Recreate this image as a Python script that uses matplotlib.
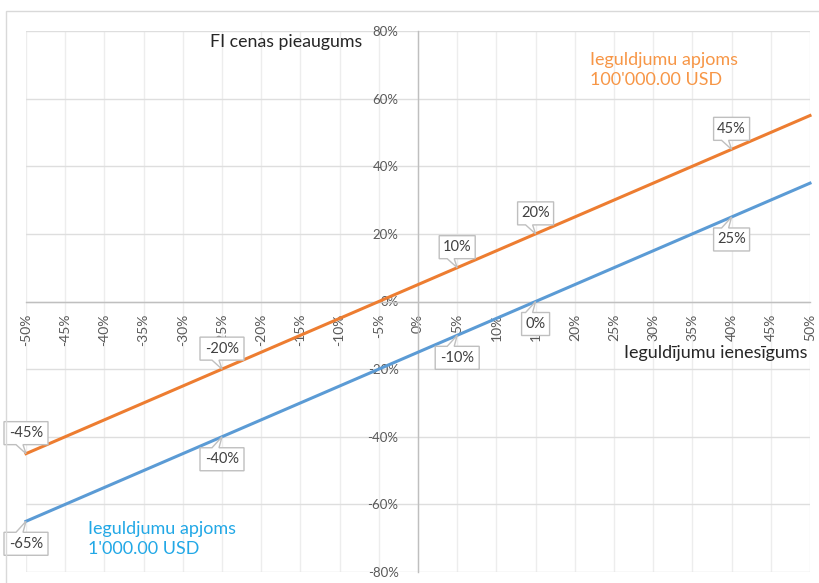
import matplotlib
matplotlib.use("Agg")
import matplotlib.pyplot as plt
import matplotlib.transforms as mtransforms
from matplotlib.patches import Polygon, Rectangle

plt.rcParams['font.family'] = ['Lato', 'DejaVu Sans']

# ---- data ----
returns = [-50, -45, -40, -35, -30, -25, -20, -15, -10, -5, 0,
           5, 10, 15, 20, 25, 30, 35, 40, 45, 50]
fi_growth_100k = [-45, -40, -35, -30, -25, -20, -15, -10, -5, 0, 5,
                  10, 15, 20, 25, 30, 35, 40, 45, 50, 55]
fi_growth_1k = [-65, -60, -55, -50, -45, -40, -35, -30, -25, -20, -15,
                -10, -5, 0, 5, 10, 15, 20, 25, 30, 35]
x_tick_labels = [f"{v}%" for v in returns]
y_ticks = [-80, -60, -40, -20, 0, 20, 40, 60, 80]
y_tick_labels = [f"{v}%" for v in y_ticks]
labelled_points = [-50, -25, 5, 15, 40]

title_text = "FI cenas pieaugums"
xaxis_text = "Ieguldījumu ienesīgums"
series_100k_text = "Ieguldjumu apjoms\n100'000.00 USD"
series_1k_text = "Ieguldjumu apjoms\n1'000.00 USD"

ORANGE = "#ED7D31"
BLUE = "#5B9BD5"
ORANGE_TXT = "#F79646"
BLUE_TXT = "#22A8E6"
GRID_H = "#DEDEDE"
GRID_V = "#EDEDED"
AXIS = "#BFBFBF"
TICK = "#595959"

W, H = 820, 583
fig = plt.figure(figsize=(W / 100, H / 100), dpi=100)
ax = fig.add_axes([26 / W, (H - 572) / H, 784 / W, 541 / H])

for s in ['top', 'right']:
    ax.spines[s].set_visible(False)
ax.spines['left'].set_position(('data', 0))
ax.spines['bottom'].set_position(('data', 0))
for s in ['left', 'bottom']:
    ax.spines[s].set_color(AXIS)
    ax.spines[s].set_linewidth(1)

ax.plot(returns, fi_growth_100k, color=ORANGE, lw=2.2, zorder=3, clip_on=False)
ax.plot(returns, fi_growth_1k, color=BLUE, lw=2.2, zorder=3, clip_on=False)

ax.set_xlim(-50, 50)
ax.set_ylim(-80, 80)
ax.set_xticks(returns)
ax.set_xticklabels(x_tick_labels, rotation=90, fontsize=10, color=TICK,
                   va='top', ha='center')
ax.set_yticks(y_ticks)
ax.set_yticklabels(y_tick_labels, fontsize=9.5, color=TICK)
ax.tick_params(axis='both', length=0)
ax.tick_params(axis='x', pad=9)
ax.tick_params(axis='y', pad=14)
ax.xaxis.grid(True, color=GRID_V, lw=1, zorder=0)
ax.yaxis.grid(True, color=GRID_H, lw=1, zorder=0)
ax.set_axisbelow(True)

# ---- callout data labels ----
px = 1 / fig.dpi


def callout(x, y, text, above):
    w = 8 * len(text) + 12
    h = 23
    gap = 9 if above else 11
    trans = fig.dpi_scale_trans + mtransforms.ScaledTranslation(x, y, ax.transData)
    if above:
        e, f = gap, gap + h
    else:
        e, f = -gap, -gap - h
    verts = [(-w / 2, e), (-10, e), (0, 0), (-3, e), (w / 2, e),
             (w / 2, f), (-w / 2, f)]
    verts = [(a * px, b * px) for a, b in verts]
    poly = Polygon(verts, closed=True, facecolor='white', edgecolor=AXIS,
                   lw=1, transform=trans, clip_on=False, zorder=5)
    ax.add_patch(poly)
    ax.text(0, (e + f) / 2 * px, text, transform=trans, ha='center',
            va='center', fontsize=10.5, color='#404040', zorder=6, clip_on=False)


for xv in labelled_points:
    i = returns.index(xv)
    callout(xv, fi_growth_100k[i], f"{fi_growth_100k[i]}%", True)
    callout(xv, fi_growth_1k[i], f"{fi_growth_1k[i]}%", False)

# ---- texts ----
fig.text(210 / W, 1 - 42 / H, title_text, fontsize=12.8, color='#262626',
         ha='left', va='center')
fig.text(808 / W, 1 - 353 / H, xaxis_text, fontsize=13, color='#262626',
         ha='right', va='center')
fig.text(590 / W, 1 - 70 / H, series_100k_text, fontsize=13, color=ORANGE_TXT,
         ha='left', va='center', linespacing=1.35)
fig.text(88 / W, 1 - 539 / H, series_1k_text, fontsize=13, color=BLUE_TXT,
         ha='left', va='center', linespacing=1.35)

# chart area border
fig.add_artist(Rectangle((6 / W, -0.1), 1.2, (H - 11) / H + 0.1,
                         transform=fig.transFigure, fill=False,
                         edgecolor='#D9D9D9', lw=1))

fig.savefig("out.png", dpi=100)
